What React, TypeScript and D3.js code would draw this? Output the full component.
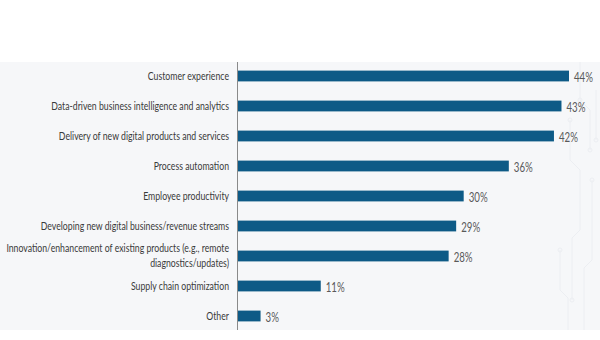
import React, { useLayoutEffect, useRef, useState } from "react";
import * as d3 from "d3";

const categories: string[][] = [
  ["Customer experience"],
  ["Data-driven business intelligence and analytics"],
  ["Delivery of new digital products and services"],
  ["Process automation"],
  ["Employee productivity"],
  ["Developing new digital business/revenue streams"],
  ["Innovation/enhancement of existing products (e.g., remote", "diagnostics/updates)"],
  ["Supply chain optimization"],
  ["Other"],
];
const values: number[] = [44, 43, 42, 36, 30, 29, 28, 11, 3];

const W = 600;
const H = 340;
const axisX = 238;
const labelX = 229;
const panelTop = 62;
const panelBottom = 330;

const circuitPaths: string[] = [
  "M580,62 L580,100 L590,110 L590,150",
  "M570,120 L570,160 L580,170 L580,230 L572,238 L572,300",
  "M592,180 L592,260 L584,268 L584,330",
  "M560,250 L560,290 L568,298 L568,330",
  "M596,90 L596,140",
];
const circuitDots: [number, number][] = [
  [590, 150], [570, 120], [572, 300], [592, 180], [560, 250], [596, 140], [580, 100],
];

export default function App() {
  const labelRef = useRef<SVGTextElement>(null);
  const valueRef = useRef<SVGTextElement>(null);
  const [ls, setLs] = useState(1);
  const [vs, setVs] = useState(1);

  useLayoutEffect(() => {
    if (labelRef.current) {
      const w = labelRef.current.getComputedTextLength();
      if (w > 0) setLs(178 / w);
    }
    if (valueRef.current) {
      const w = valueRef.current.getComputedTextLength();
      if (w > 0) setVs(19 / w);
    }
  }, []);

  const y = d3
    .scaleBand<number>()
    .domain(d3.range(values.length))
    .range([61, 331])
    .paddingInner(0.64)
    .paddingOuter(0.32);
  const x = d3.scaleLinear().domain([0, 44]).range([axisX, 569]);
  const font = "Lato, 'Open Sans', sans-serif";

  return (
    <svg
      width={W}
      height={H}
      style={{ position: "absolute", left: 0, top: 0, display: "block" }}
    >
      <rect x={0} y={0} width={W} height={H} fill="#ffffff" />
      <rect x={0} y={panelTop} width={W} height={panelBottom - panelTop} fill="#f6f7f9" />
      <g stroke="#eceef2" strokeWidth={1} fill="none">
        {circuitPaths.map((d, i) => (
          <path key={i} d={d} />
        ))}
        {circuitDots.map(([cx, cy], i) => (
          <circle key={i} cx={cx} cy={cy} r={2} />
        ))}
      </g>
      {values.map((v, i) => {
        const by = y(i)!;
        const bh = y.bandwidth();
        const cy = by + bh / 2;
        const lines = categories[i];
        const vx = x(v) + 5;
        return (
          <g key={i}>
            <rect x={axisX} y={by} width={x(v) - axisX} height={bh} fill="#0d5a86" />
            <g transform={`translate(${labelX},0) scale(${ls},1)`}>
              {lines.map((t, j) => (
                <text
                  key={j}
                  ref={i === 1 ? labelRef : undefined}
                  x={0}
                  y={cy + (j - (lines.length - 1) / 2) * 15 - (lines.length > 1 ? 1 : 0)}
                  dy="0.35em"
                  textAnchor="end"
                  fontFamily={font}
                  fontSize={11.5}
                  fill="#3a3a3a"
                >
                  {t}
                </text>
              ))}
            </g>
            <g transform={`translate(${vx},0) scale(${vs},1)`}>
              <text
                ref={i === 0 ? valueRef : undefined}
                x={0}
                y={cy + 2}
                dy="0.35em"
                fontFamily={font}
                fontSize={12.5}
                fill="#595959"
              >
                {v}%
              </text>
            </g>
          </g>
        );
      })}
      <line x1={axisX - 0.5} x2={axisX - 0.5} y1={panelTop} y2={panelBottom} stroke="#8a8a8a" strokeWidth={1} />
    </svg>
  );
}
